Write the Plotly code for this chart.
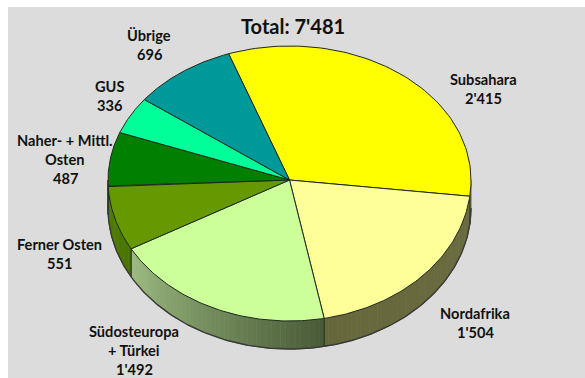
import numpy as np
import plotly.graph_objects as go

categories = ["Subsahara", "Nordafrika", "Südosteuropa\n+ Türkei", "Ferner Osten",
              "Naher- + Mittl.\nOsten", "GUS", "Übrige"]
values = [2415, 1504, 1492, 551, 487, 336, 696]
total_label = "Total: 7'481"

# styling and layout
colors = ["#FFFF00", "#FFFF99", "#CCFF99", "#669900", "#007F00", "#00FF99", "#009999"]
wall_near = ["#77773A", "#6B6B40", "#4A5B38", "#4A7400", "#005000", "#00A060", "#006060"]
wall_far = ["#77773A", "#67673C", "#9CBB80", "#4F7F00", "#005000", "#00A060", "#006060"]
label_pos = [(483, 79), (475, 313), (134, 331.5), (59, 244), (65, 140), (109, 86), (149, 35)]
LINE_STEP = 19.2
START = 340.4
CX, CY, APEX_Y, RX, RY_TOP, RY_BOT, DEPTH = 289.5, 180, 180, 181.5, 134, 141, 28


def rim(a):
    a = np.radians(np.asarray(a, dtype=float))
    ry = np.where(np.cos(a) >= 0, RY_TOP, RY_BOT)
    return CX + RX * np.sin(a), CY - ry * np.cos(a)


def mix(c1, c2, t):
    a = [int(c1[i:i + 2], 16) for i in (1, 3, 5)]
    b = [int(c2[i:i + 2], 16) for i in (1, 3, 5)]
    return "rgb(%d,%d,%d)" % tuple(round(p + (q - p) * t) for p, q in zip(a, b))


shares = np.array(values) / sum(values) * 360
starts = START + np.concatenate([[0], np.cumsum(shares)[:-1]])
ends = starts + shares

fig = go.Figure()

# side wall of the disc (front half only)
for s, e, near, far in zip(starts, ends, wall_near, wall_far):
    for shift in (0, 360):
        lo, hi = max(s - shift, 90), min(e - shift, 270)
        if hi <= lo:
            continue
        n = max(2, int((hi - lo) / 1.5))
        grid = np.linspace(lo, hi, n + 1)
        for i in range(n):
            sub = np.linspace(grid[i], grid[i + 1], 3)
            x, y = rim(sub)
            t = i / max(n - 1, 1)
            c = mix(near, far, t)
            fig.add_trace(go.Scatter(
                x=np.r_[x, x[::-1]], y=np.r_[y, y[::-1] + DEPTH],
                mode="lines", fill="toself", fillcolor=c,
                line=dict(color=c, width=1), hoverinfo="skip", showlegend=False))
        # vertical edge at the slice boundaries
        for b in (lo, hi):
            if 90 < b < 270:
                bx, by = rim([b])
                fig.add_trace(go.Scatter(
                    x=[bx[0], bx[0]], y=[by[0], by[0] + DEPTH], mode="lines",
                    line=dict(color="#33352A", width=1), hoverinfo="skip", showlegend=False))

# lower outline of the wall
ax = np.linspace(90, 270, 200)
wx, wy = rim(ax)
fig.add_trace(go.Scatter(x=wx, y=wy + DEPTH, mode="lines",
                         line=dict(color="#3A3A3A", width=1.4),
                         hoverinfo="skip", showlegend=False))

# top surface
for name, v, s, e, c in zip(categories, values, starts, ends, colors):
    x, y = rim(np.linspace(s, e, 80))
    fig.add_trace(go.Scatter(
        x=np.r_[CX, x, CX], y=np.r_[APEX_Y, y, APEX_Y],
        mode="lines", fill="toself", fillcolor=c,
        line=dict(color="#1E2A1E", width=1), name=name.replace("\n", " "),
        hoverinfo="name+text", text=str(v), showlegend=False))

FONT = "Lato, Carlito, Calibri, sans-serif"
annotations = []
for name, v, (px, py) in zip(categories, values, label_pos):
    val = f"{v:,}".replace(",", "'")
    for k, line in enumerate(name.split("\n") + [val]):
        annotations.append(dict(x=px, y=py + k * LINE_STEP, text=f"<b>{line}</b>",
                                showarrow=False, xanchor="center", yanchor="middle",
                                font=dict(family=FONT, size=14.6, color="#111111")))
annotations.append(dict(x=293, y=26, text=f"<b>{total_label}</b>", showarrow=False,
                        xanchor="center", yanchor="middle",
                        font=dict(family=FONT, size=20, color="#111111")))

fig.update_layout(
    width=585, height=378, margin=dict(l=0, r=0, t=0, b=0),
    paper_bgcolor="white", plot_bgcolor="white",
    xaxis=dict(range=[0, 585], visible=False, fixedrange=True),
    yaxis=dict(range=[378, 0], visible=False, fixedrange=True),
    shapes=[dict(type="rect", x0=8, y0=7, x1=585, y1=378, layer="below",
                 fillcolor="#DCDCDC", line_width=0)],
    annotations=annotations,
)
fig.write_html("out.html", config={"displayModeBar": False},
               post_script="document.body.style.margin='0';document.body.style.overflow='hidden';")
